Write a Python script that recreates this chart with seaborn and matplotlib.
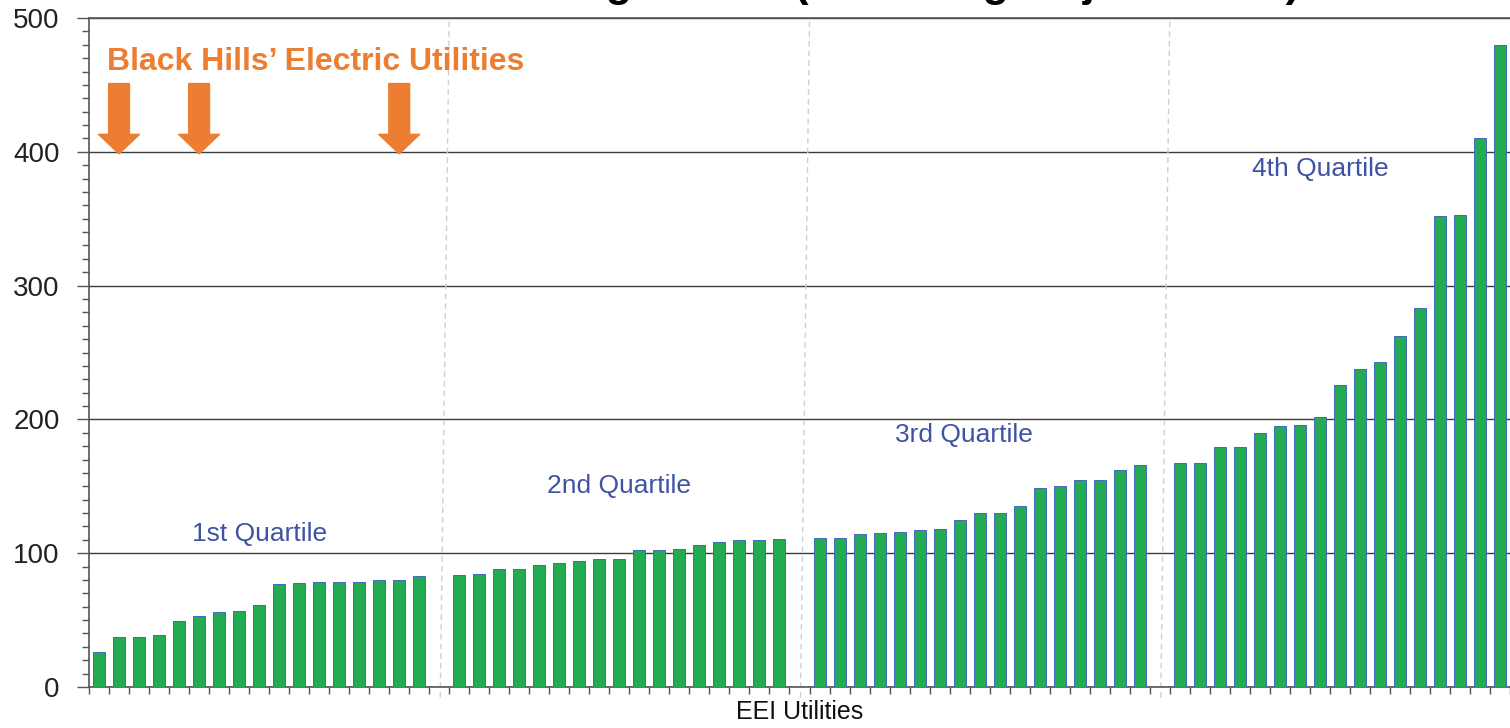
import numpy as np
import pandas as pd
import matplotlib
matplotlib.use("Agg")
import matplotlib.pyplot as plt
import seaborn as sns

# ---------------- data ----------------
q1_values = [26, 37, 37.5, 39, 49, 53, 56, 57, 61, 77, 77.5, 78.5, 78.5, 78.5, 80, 80, 83]
q2_values = [83.5, 84.5, 88, 88.5, 91.5, 93, 94, 95.5, 95.5, 102.5, 102.5, 103, 106.5, 108, 109.5, 109.5, 110.5]
q3_values = [111, 111, 114, 115, 116, 117, 118, 125, 130, 130, 135, 149, 150.5, 155, 155, 162, 166]
q4_values = [167.5, 167.5, 179, 179, 190, 195, 196, 202, 226, 238, 243, 262, 283, 352, 352.5, 410, 480]
quartile_labels = ["1st Quartile", "2nd Quartile", "3rd Quartile", "4th Quartile"]
black_hills_index = [1, 5, 15]          # positions (within 1st quartile) of Black Hills' utilities
y_ticks = [0, 100, 200, 300, 400, 500]
title_text = "Average SAIDI (excluding major events)"
annotation_text = "Black Hills\u2019 Electric Utilities"
x_label = "EEI Utilities"

# ---------------- styling / layout ----------------
GREEN = "#22AB51"
EDGE_BLUE = "#4169BE"
ORANGE = "#ED7D31"
TEXT_BLUE = "#3F53A6"
AXIS_GREY = "#555555"
GRID_GREY = "#3C3C3C"
GROUP_STEP = 18  # 17 bars + one empty slot

sns.set_style("white")
plt.rcParams["font.family"] = ["Liberation Sans", "DejaVu Sans"]

groups = [q1_values, q2_values, q3_values, q4_values]
rows = []
for g, vals in enumerate(groups):
    for i, v in enumerate(vals):
        rows.append({"pos": g * GROUP_STEP + i, "value": v, "quartile": quartile_labels[g]})
df = pd.DataFrame(rows)

fig = plt.figure(figsize=(15.10, 7.28), dpi=100)
ax = fig.add_axes([89 / 1510, 1 - 687 / 728, 1 - 89 / 1510, (687 - 18) / 728])

sns.barplot(data=df, x="pos", y="value", native_scale=True, width=0.6,
            color=GREEN, saturation=1, edgecolor=EDGE_BLUE, linewidth=0.7,
            errorbar=None, ax=ax, zorder=3)

n_slots = 3 * GROUP_STEP + len(q4_values)
ax.set_xlim(-0.47, n_slots - 1 + 0.05)
ax.set_ylim(0, 500)

# y axis
ax.set_yticks(y_ticks)
ax.set_yticks(np.arange(0, 501, 10), minor=True)
ax.tick_params(axis="y", which="major", direction="out", length=9, width=1,
               color=AXIS_GREY, labelsize=20, pad=12, labelcolor="#222222", left=True)
ax.tick_params(axis="y", which="minor", direction="out", length=5, width=1,
               color=AXIS_GREY, left=True)
# x axis ticks at slot boundaries
ax.set_xticks(np.arange(n_slots + 1) - 0.5)
ax.set_xticklabels([])
ax.tick_params(axis="x", which="major", direction="out", length=5, width=1,
               color=AXIS_GREY, bottom=True)
ax.set_xlabel(x_label, fontsize=18, labelpad=1, color="#111111")
ax.set_ylabel("")

# gridlines
ax.yaxis.grid(True, which="major", color=GRID_GREY, linewidth=1)
ax.set_axisbelow(True)
for side in ["left", "bottom", "top"]:
    ax.spines[side].set_visible(True)
    ax.spines[side].set_color(AXIS_GREY)
    ax.spines[side].set_linewidth(1.2)
ax.spines["right"].set_visible(False)

# dashed separators between quartiles (slightly slanted, like the original)
for g in range(1, 4):
    gap = g * GROUP_STEP - 1
    ax.plot([gap + 0.05, gap + 0.5], [-8, 500], ls=(0, (4, 3)), color="#CFCFCF",
            lw=1, clip_on=False, zorder=2)

# quartile labels
label_pos = [(8, 114), (26, 150), (43.2, 188), (61, 387)]
for (x, y), lab in zip(label_pos, quartile_labels):
    ax.text(x, y, lab, ha="center", va="center", fontsize=19, color=TEXT_BLUE, zorder=5)

# Black Hills annotation and arrows
ax.text(0.42, 467, annotation_text, ha="left", va="center", fontsize=23,
        fontweight="bold", color=ORANGE, zorder=5)
for idx in black_hills_index:
    ax.annotate("", xy=(idx, 398.5), xytext=(idx, 451),
                arrowprops=dict(arrowstyle="simple,head_width=2.95,head_length=1.4,tail_width=1.5",
                                color=ORANGE, shrinkA=0, shrinkB=0, mutation_scale=10),
                zorder=6)

# title (cut off at the top in the original)
fig.text(894 / 1510, 1 + 4 / 728, title_text, ha="center", va="baseline",
         fontsize=31, fontweight="bold", color="black")

fig.savefig("out.png", dpi=100)
